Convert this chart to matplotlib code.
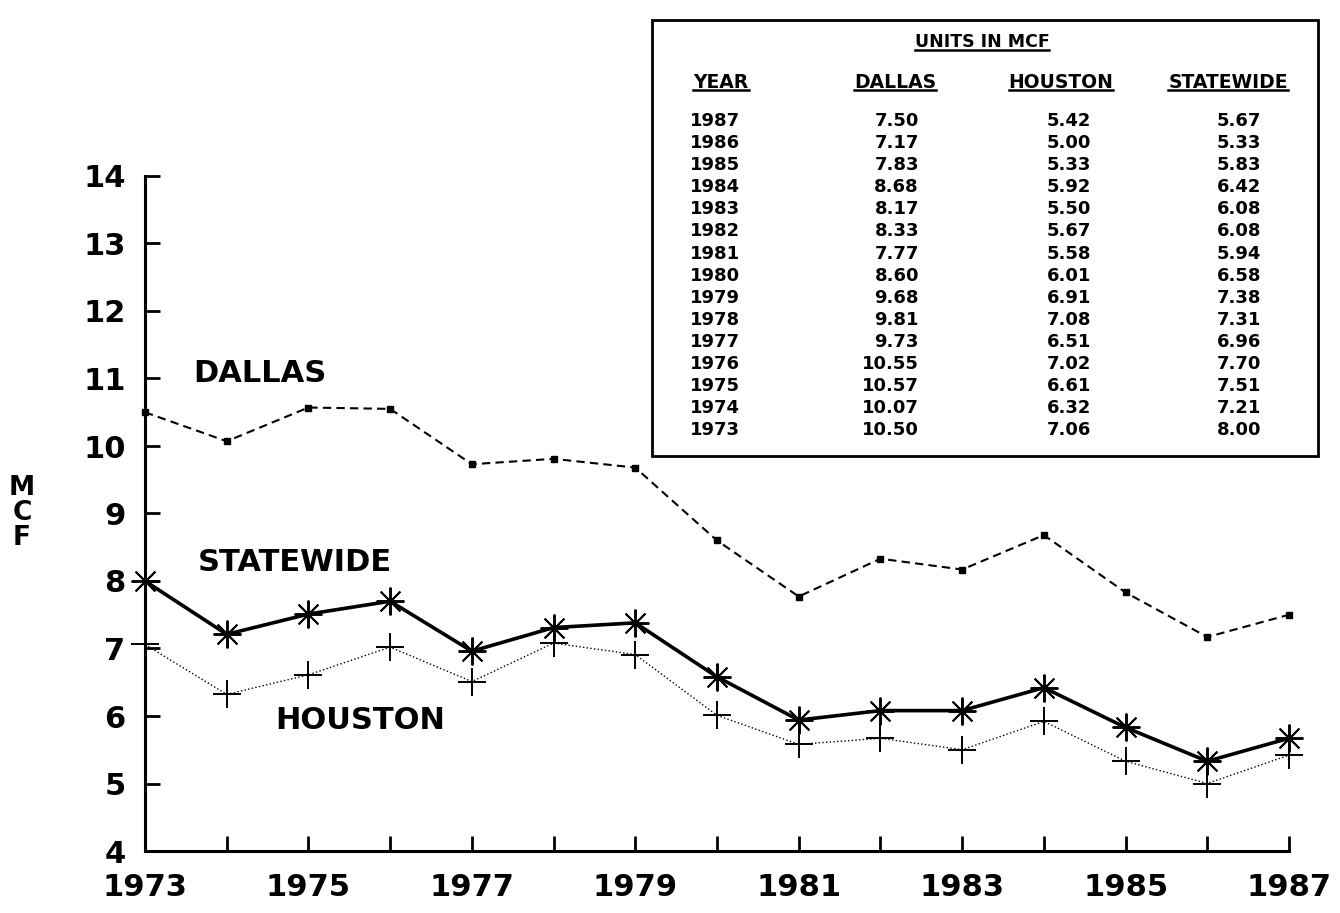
import matplotlib
matplotlib.use("Agg")
import matplotlib.pyplot as plt
from matplotlib.patches import Rectangle
from matplotlib.lines import Line2D

years = list(range(1973, 1988))
dallas = [10.50, 10.07, 10.57, 10.55, 9.73, 9.81, 9.68, 8.60, 7.77, 8.33, 8.17, 8.68, 7.83, 7.17, 7.50]
houston = [7.06, 6.32, 6.61, 7.02, 6.51, 7.08, 6.91, 6.01, 5.58, 5.67, 5.50, 5.92, 5.33, 5.00, 5.42]
statewide = [8.00, 7.21, 7.51, 7.70, 6.96, 7.31, 7.38, 6.58, 5.94, 6.08, 6.08, 6.42, 5.83, 5.33, 5.67]
yticks = list(range(4, 15))
xtick_labels = list(range(1973, 1988, 2))

W, H = 1340, 913
plt.rcParams['font.family'] = ['DejaVu Sans']
fig = plt.figure(figsize=(W / 100, H / 100), dpi=100)

def fx(px):
    return px / W

def fy(py):
    return 1 - py / H

ax = fig.add_axes([fx(145), fy(851), fx(1289) - fx(145), fy(176) - fy(851)])
ax.set_xlim(1973, 1987)
ax.set_ylim(4, 14)

ax.plot(years, dallas, color='black', linestyle=(0, (4, 2.5)), linewidth=1.5,
        marker='s', markersize=4.5, clip_on=False, zorder=3)
ax.plot(years, houston, color='black', linestyle=':', linewidth=1.0,
        marker='+', markersize=20, markeredgewidth=1.4, clip_on=False, zorder=3)
ax.plot(years, statewide, color='black', linestyle='-', linewidth=2.6,
        marker=(8, 2, 0), markersize=20, markeredgewidth=1.4, clip_on=False, zorder=4)

for s in ['top', 'right']:
    ax.spines[s].set_visible(False)
for s in ['left', 'bottom']:
    ax.spines[s].set_linewidth(2.2)

ax.set_yticks(yticks)
ax.set_yticklabels([str(v) for v in yticks])
ax.set_xticks(xtick_labels)
ax.set_xticklabels([str(v) for v in xtick_labels])
ax.set_xticks([y for y in years if y not in xtick_labels], minor=True)
ax.tick_params(axis='both', which='both', direction='in', length=11, width=2, labelsize=22)
ax.tick_params(axis='y', pad=14)
ax.tick_params(axis='x', pad=16)
for lab in ax.get_xticklabels() + ax.get_yticklabels():
    lab.set_fontweight('bold')

ax.text(1973.59, 11.08, 'DALLAS', fontsize=22, fontweight='bold', va='center', ha='left')
ax.text(1973.65, 8.27, 'STATEWIDE', fontsize=22, fontweight='bold', va='center', ha='left')
ax.text(1974.59, 5.94, 'HOUSTON', fontsize=22, fontweight='bold', va='center', ha='left')

fig.text(fx(22), fy(513), 'M\nC\nF', fontsize=19, fontweight='bold', ha='center', va='center',
         linespacing=0.95)

# table box
fig.patches.append(Rectangle((fx(652), fy(456)), fx(1318) - fx(652), fy(20) - fy(456),
                             transform=fig.transFigure, fill=False, linewidth=2, edgecolor='black'))

tfs = 13
hfs = 13.5
headers = []
headers.append(fig.text(fx(982), fy(42), 'UNITS IN MCF', fontsize=12.5, fontweight='bold', ha='center', va='center'))
headers.append(fig.text(fx(721), fy(82), 'YEAR', fontsize=hfs, fontweight='bold', ha='center', va='center'))
headers.append(fig.text(fx(895), fy(82), 'DALLAS', fontsize=hfs, fontweight='bold', ha='center', va='center'))
headers.append(fig.text(fx(1061), fy(82), 'HOUSTON', fontsize=hfs, fontweight='bold', ha='center', va='center'))
headers.append(fig.text(fx(1228), fy(82), 'STATEWIDE', fontsize=hfs, fontweight='bold', ha='center', va='center'))

row0, dy = 121, 22.1
for i, (yr, d, h, s) in enumerate(reversed(list(zip(years, dallas, houston, statewide)))):
    yy = fy(row0 + i * dy)
    fig.text(fx(690), yy, str(yr), fontsize=tfs, fontweight='bold', ha='left', va='center')
    fig.text(fx(919), yy, f'{d:.2f}', fontsize=tfs, fontweight='bold', ha='right', va='center')
    fig.text(fx(1091), yy, f'{h:.2f}', fontsize=tfs, fontweight='bold', ha='right', va='center')
    fig.text(fx(1261), yy, f'{s:.2f}', fontsize=tfs, fontweight='bold', ha='right', va='center')

fig.canvas.draw()
r = fig.canvas.get_renderer()
for t in headers:
    bb = t.get_window_extent(r)
    yline = bb.y0 + 1
    fig.lines.append(Line2D([bb.x0 / W, bb.x1 / W], [yline / H, yline / H],
                            transform=fig.transFigure, color='black', linewidth=1.8))

fig.savefig('out.png', dpi=100, facecolor='white')
